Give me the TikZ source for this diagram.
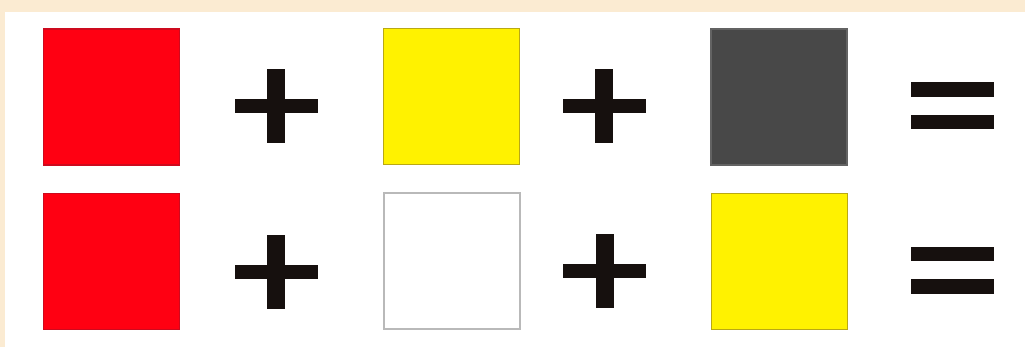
\documentclass[tikz,border=0pt]{standalone}
\usepackage{xcolor}
\definecolor{paper}{RGB}{251,235,210}
\definecolor{pred}{RGB}{255,0,18}
\definecolor{predline}{RGB}{205,10,30}
\definecolor{pyellow}{RGB}{255,242,0}
\definecolor{pyellowline}{RGB}{185,168,20}
\definecolor{pgrey}{RGB}{72,72,72}
\definecolor{psign}{RGB}{22,16,14}
\usepackage{tikz}
\usetikzlibrary{positioning}
\tikzset{
  swatch/.style={rectangle,minimum size=136pt,inner sep=0pt,line width=1.6pt},
  redsq/.style={swatch,fill=pred,draw=predline},
  yellowsq/.style={swatch,fill=pyellow,draw=pyellowline,line width=1pt},
  greysq/.style={swatch,fill=pgrey,draw=pgrey!85!white},
  whitesq/.style={swatch,fill=white,draw=gray!55,line width=2pt},
  sign/.style={fill=psign},
  plussign/.pic={
    \fill[sign] (-41.5,-7) rectangle (41.5,7);
    \fill[sign] (-9,-37) rectangle (9,37);
  },
  equalsign/.pic={
    \fill[sign] (-41.5,9) rectangle (41.5,23.5);
    \fill[sign] (-41.5,-9) rectangle (41.5,-23.5);
  },
}
\begin{document}
\begin{tikzpicture}[x=1pt,y=1pt]
\useasboundingbox (0,0) rectangle (1025,347);
\fill[paper] (0,0) rectangle (1025,347);
\fill[white] (5,0) rectangle (1025,335);
% top row
\node[redsq] (red1) at (111.5,250) {};
\node[yellowsq,right=203pt of red1] (yel1) {};
\node[greysq,right=190pt of yel1] (grey1) {};
% bottom row
\node[redsq,below=27pt of red1] (red2) {};
\node[whitesq,below=27pt of yel1] (wht2) {};
\node[yellowsq,below=27pt of grey1] (yel2) {};
% signs
\pic at ([xshift=96pt,yshift=-9pt]red1.east) {plussign};
\pic at ([xshift=84pt,yshift=-9pt]yel1.east) {plussign};
\pic at ([xshift=105pt,yshift=-9pt]grey1.east) {equalsign};
\pic at ([xshift=96pt,yshift=-10pt]red2.east) {plussign};
\pic at ([xshift=84pt,yshift=-10pt]wht2.east) {plussign};
\pic at ([xshift=105pt,yshift=-9pt]yel2.east) {equalsign};
\end{tikzpicture}
\end{document}
